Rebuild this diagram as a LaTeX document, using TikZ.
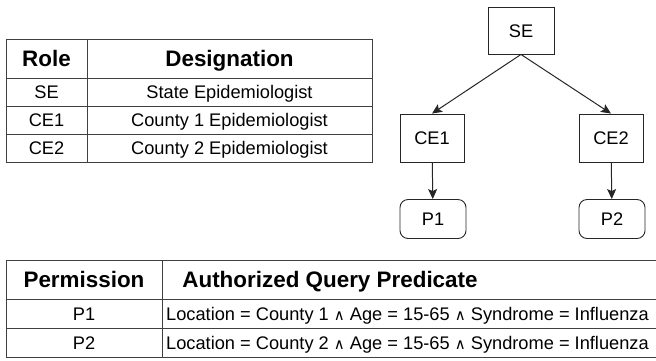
\documentclass[tikz,border=0pt]{standalone}
\usepackage{fontspec}
\setmainfont{Liberation Sans}
\newfontfamily\symfont{DejaVu Sans}
\usetikzlibrary{arrows.meta}
\tikzset{
  grid line/.style={draw=black!75, line width=1pt},
  role box/.style={draw=black!85, line width=0.9pt, minimum width=64bp, minimum height=48bp, inner sep=0pt},
  perm box/.style={role box, rounded corners=8bp, minimum width=66bp, minimum height=39bp},
  head/.style={font=\fontsize{22.5}{24}\selectfont\bfseries, inner sep=0pt, text height=16bp, text depth=0pt},
  cell/.style={font=\fontsize{18.3}{20}\selectfont, inner sep=0pt, text height=13bp, text depth=0pt},
  link/.style={-{Stealth[length=10bp,width=9bp,inset=2bp]}, line width=1pt, black!85}
}
\newcommand{\conj}{{\symfont\fontsize{15}{16}\selectfont ∧}}
\begin{document}
\begin{tikzpicture}[x=1bp,y=-1bp]
        \useasboundingbox (0,0) rectangle (656,360);
        \draw[grid line] (6,39) rectangle (372,162);
        \foreach \y in {78,106,134}
            \draw[grid line] (6,\y) -- (372,\y);
        \draw[grid line] (87,39) -- (87,162);
        \node[head] (role) at (46.5,58.5) {Role};
        \node[head] (designation) at (229.5,58.5) {Designation};
        \node[cell] (role se) at (46.5,92) {SE};
        \node[cell] (name se) at (229.5,92) {State Epidemiologist};
        \node[cell] (role ce1) at (46.5,120) {CE1};
        \node[cell] (name ce1) at (229.5,120) {County 1 Epidemiologist};
        \node[cell] (role ce2) at (46.5,148) {CE2};
        \node[cell] (name ce2) at (229.5,148) {County 2 Epidemiologist};
        \node[role box, minimum width=66bp, minimum height=47bp, cell] (se) at (521,30.5) {SE};
        \node[role box, cell] (ce1) at (432,138) {CE1};
        \node[role box, cell] (ce2) at (611,138) {CE2};
        \node[perm box, cell] (p1) at (433,219) {P1};
        \node[perm box, cell] (p2) at (612,219) {P2};
        \draw[link] (se.south) -- (ce1.north);
        \draw[link] (se.south) -- (ce2.north);
        \draw[link] (ce1) -- (p1);
        \draw[link] (ce2) -- (p2);
        \draw[grid line] (656,260) -- (6,260) -- (6,357) -- (656,357);
        \foreach \y in {299,328}
            \draw[grid line] (6,\y) -- (656,\y);
        \draw[grid line] (162,260) -- (162,357);
        \node[head] (permission) at (84,279.5) {Permission};
        \node[head] (predicate) at (330,279.5) {Authorized Query Predicate};
        \node[cell] (perm p1) at (84,313.5) {P1};
        \node[cell, anchor=west] (pred p1) at (166,313.5) {Location = County 1 \conj{} Age = 15-65 \conj{} Syndrome = Influenza};
        \node[cell] (perm p2) at (84,342.5) {P2};
        \node[cell, anchor=west] (pred p2) at (166,342.5) {Location = County 2 \conj{} Age = 15-65 \conj{} Syndrome = Influenza};
    \end{tikzpicture}
\end{document}
